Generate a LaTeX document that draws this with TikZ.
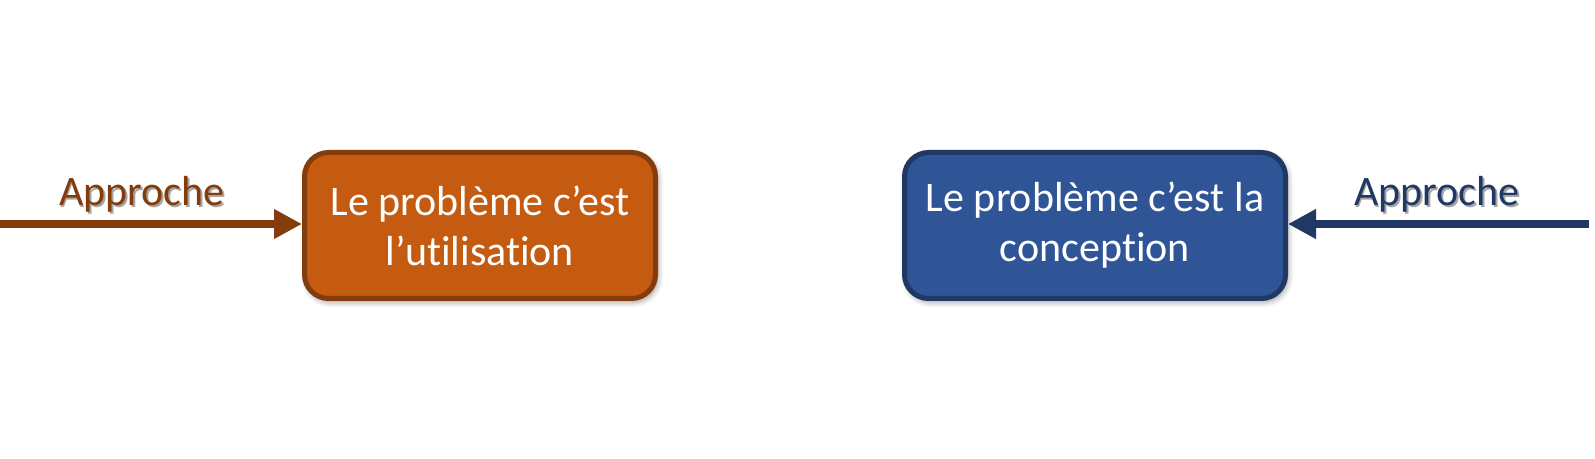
\documentclass[tikz,border=0pt]{standalone}
\usepackage{fontspec}
\setmainfont{Carlito}[RawFeature=-liga]
\usetikzlibrary{arrows.meta,shadows.blur}
\definecolor{brownline}{HTML}{843C0C}
\definecolor{orangefill}{HTML}{C55A11}
\definecolor{blueline}{HTML}{1F3864}
\definecolor{bluefill}{HTML}{2F5597}
\tikzset{
  probbox/.style={draw, line width=5pt, rounded corners=24pt, minimum height=146pt,
    align=center, text=white, font=\fontsize{42}{50}\selectfont,
    blur shadow={shadow xshift=2pt, shadow yshift=-3pt, shadow blur radius=6pt, shadow opacity=45}},
  lbl/.style={anchor=base, font=\fontsize{42}{50}\selectfont},
  lblshadow/.style={anchor=base, font=\fontsize{42}{50}\selectfont, text=black!35},
  flow/.style={line width=7.5pt, -{Triangle[length=28pt,width=28pt]}}
}
\begin{document}
\begin{tikzpicture}[x=1pt,y=1pt]
\useasboundingbox (0,0) rectangle (1595,458);
\node[probbox, minimum width=351pt, fill=orangefill, draw=brownline] (left) at (480,232.5) {Le problème c’est\\l’utilisation};
\node[probbox, minimum width=381pt, fill=bluefill, draw=blueline] (right) at (1095,232.5) {Le problème c’est la\\conception};
\coordinate (lstart) at (0,234);
\coordinate (rstart) at (1589,234);
\draw[flow, draw=brownline, fill=brownline] (lstart) -- (lstart -| left.west);
\draw[flow, draw=blueline, fill=blueline] (rstart) -- (rstart -| right.east);
\node[lblshadow] (lsh) at (143.5,250.5) {Approche};
\node[lbl, text=brownline] (llab) at (142,252) {Approche};
\node[lblshadow] (rsh) at (1438.5,250.5) {Approche};
\node[lbl, text=blueline] (rlab) at (1437,252) {Approche};
\end{tikzpicture}
\end{document}
